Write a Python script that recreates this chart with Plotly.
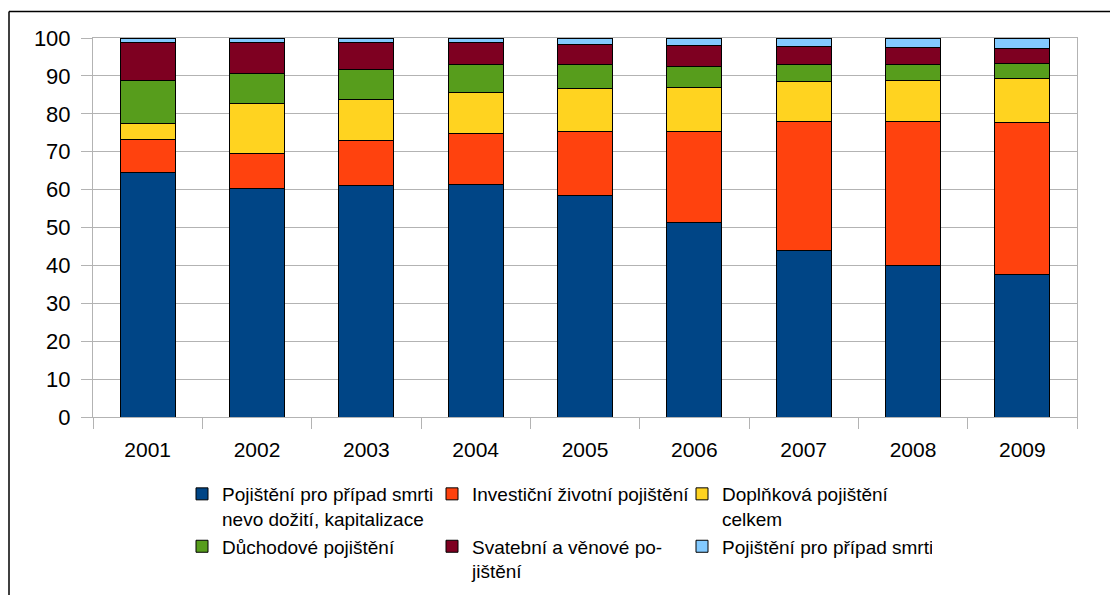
import plotly.graph_objects as go

years = ["2001", "2002", "2003", "2004", "2005", "2006", "2007", "2008", "2009"]

name_endowment = "Pojištění pro případ smrti<br>nevo dožití, kapitalizace"
name_investment = "Investiční životní pojištění"
name_supplementary = "Doplňková pojištění<br>celkem"
name_pension = "Důchodové pojištění"
name_wedding = "Svatební a věnové po-<br>jištění"
name_death = "Pojištění pro případ smrti"

endowment = [64.6, 60.4, 61.0, 61.3, 58.4, 51.4, 44.0, 40.0, 37.7]
investment = [8.7, 9.1, 11.9, 13.6, 16.9, 24.0, 33.9, 37.9, 40.1]
supplementary = [4.2, 13.1, 10.9, 10.8, 11.4, 11.5, 10.6, 11.0, 11.6]
pension = [11.4, 8.0, 8.0, 7.4, 6.2, 5.7, 4.6, 4.2, 3.8]
wedding = [10.0, 8.3, 6.9, 5.6, 5.5, 5.4, 4.7, 4.3, 3.9]
death = [1.1, 1.1, 1.3, 1.3, 1.6, 2.0, 2.2, 2.6, 2.9]

y_ticks = [0, 10, 20, 30, 40, 50, 60, 70, 80, 90, 100]

series = [
    (name_endowment, endowment, "#004586"),
    (name_investment, investment, "#ff420e"),
    (name_supplementary, supplementary, "#ffd320"),
    (name_pension, pension, "#579d1c"),
    (name_wedding, wedding, "#7e0021"),
    (name_death, death, "#83caff"),
]

FONT = "Liberation Sans, Arial, sans-serif"

fig = go.Figure()
for name, vals, color in series:
    fig.add_trace(go.Bar(
        x=years, y=vals, name=name,
        marker=dict(color=color, line=dict(color="#000000", width=1)),
    ))

W, H = 1110, 595
ml, mr, mt, mb = 93, 33, 38, 178
pw, ph = W - ml - mr, H - mt - mb

def px_x(p):
    return (p - ml) / pw

def px_y(p):
    return (H - mb - p) / ph

fig.update_layout(
    width=W, height=H,
    margin=dict(l=ml, r=mr, t=mt, b=mb, pad=0, autoexpand=False),
    barmode="stack",
    bargap=0.497,
    paper_bgcolor="white",
    plot_bgcolor="white",
    font=dict(family=FONT, color="#000000"),
    showlegend=True,
    legend=dict(
        orientation="h",
        x=px_x(182), xanchor="left",
        y=px_y(475), yanchor="top",
        entrywidth=205, entrywidthmode="pixels",
        valign="top",
        traceorder="normal",
        font=dict(size=19, family=FONT, color="#000000"),
        bgcolor="rgba(0,0,0,0)",
    ),
    xaxis=dict(
        type="category",
        showgrid=False,
        showline=True, linecolor="#b3b3b3", linewidth=1, mirror=True,
        ticks="outside", tickson="boundaries", ticklen=11, tickcolor="#b3b3b3",
        ticklabelstandoff=14,
        tickfont=dict(size=21, family=FONT, color="#000000"),
    ),
    yaxis=dict(
        range=[0, 100],
        tickvals=y_ticks,
        showgrid=True, gridcolor="#b3b3b3", gridwidth=1,
        showline=True, linecolor="#b3b3b3", linewidth=1, mirror=True,
        ticks="outside", ticklen=11, tickcolor="#b3b3b3",
        ticklabelstandoff=6,
        tickfont=dict(size=22, family=FONT, color="#000000"),
        zeroline=False,
    ),
    shapes=[
        dict(type="line", xref="paper", yref="paper",
             x0=px_x(9), x1=px_x(W), y0=px_y(11.5), y1=px_y(11.5),
             line=dict(color="#000000", width=1.5)),
        dict(type="line", xref="paper", yref="paper",
             x0=px_x(9), x1=px_x(9), y0=px_y(11.5), y1=px_y(H + 2),
             line=dict(color="#000000", width=1.5)),
    ],
)

fig.write_html("out.html")
